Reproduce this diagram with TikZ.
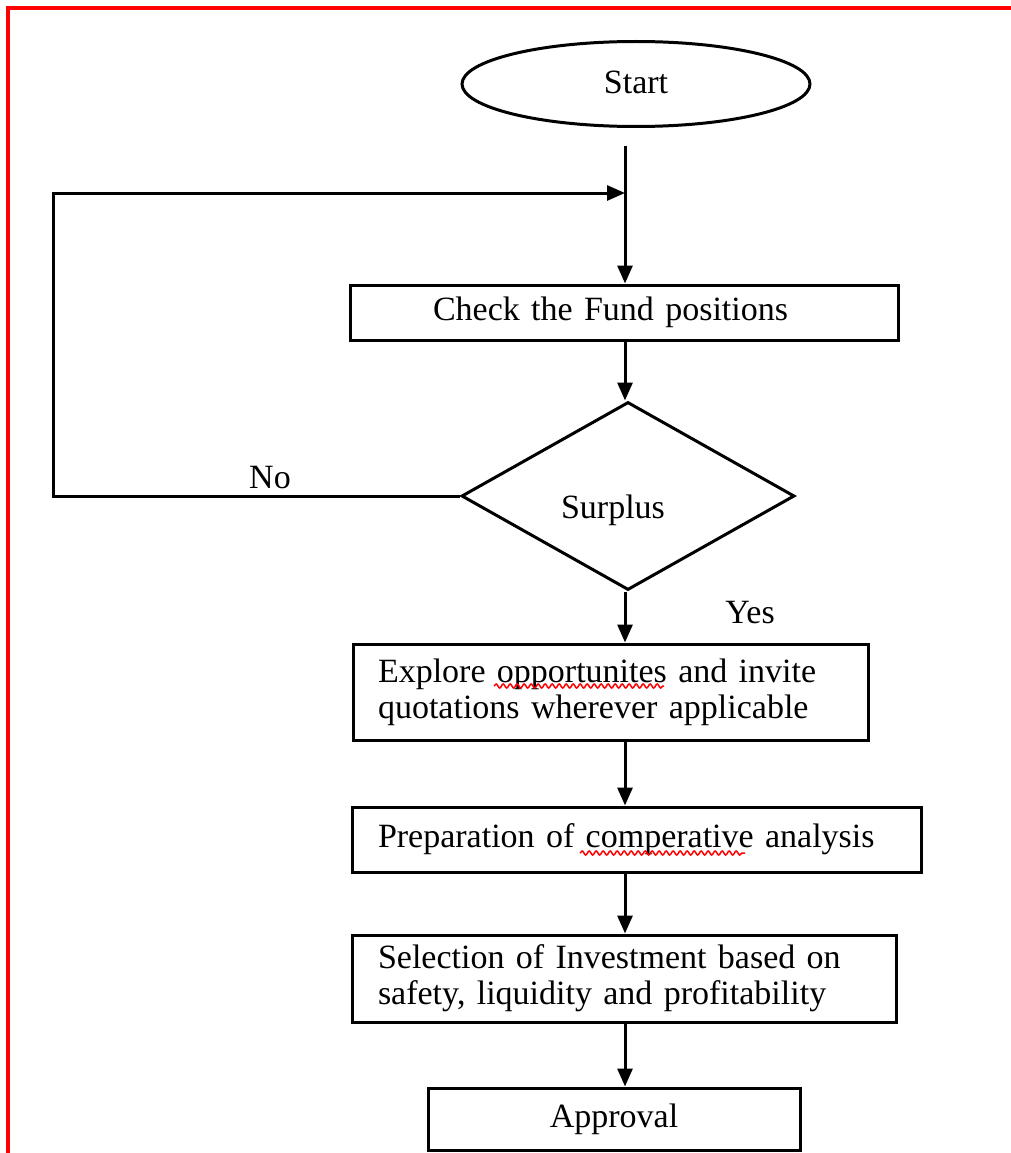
\documentclass[tikz,border=0pt]{standalone}
\usepackage{fontspec}
\setmainfont{Liberation Serif}
\usetikzlibrary{shapes.geometric,arrows.meta,decorations.pathmorphing}
\begin{document}
\begin{tikzpicture}[x=1pt,y=-1pt,
  line width=3pt,
  font=\fontsize{34}{36}\selectfont,
  box/.style={draw, rectangle, align=left, inner ysep=0pt, line width=3pt},
  arr/.style={-{Triangle[length=18pt,width=15pt]}, line width=3pt},
  squig/.style={red, line width=1.5pt, decorate, decoration={snake, amplitude=2pt, segment length=7pt}}]
\useasboundingbox (0,0) rectangle (1011,1153);
% red frame (cropped)
\draw[red, line width=4pt] (8,1153) -- (8,8) -- (1011,8);

% nodes
\node[ellipse, draw, minimum width=348pt, minimum height=85pt, inner sep=0pt] (start) at (636,84) {\raisebox{4pt}{Start}};
\node[box, minimum height=55pt, text width=382pt, inner xsep=83pt] (check) at (624,312.5) {Check the Fund positions};
\node[diamond, draw, minimum width=333pt, minimum height=188pt, inner sep=0pt] (surplus) at (628,496) {};
\node (surplustext) at (613,510) {Surplus};
\node (no) at (270,478) {No};
\node (yes) at (750,613) {Yes};
\node[box, minimum height=96pt, text width=465pt, inner xsep=25pt] (explore) at (610.5,692) {Explore opportunites and invite\\quotations wherever applicable};
\node[box, minimum height=65pt, text width=517pt, inner xsep=26pt] (prep) at (636.5,839.5) {Preparation of comperative analysis};
\node[box, minimum height=87pt, text width=492pt, inner xsep=26pt] (select) at (624,978.5) {Selection of Investment based on\\safety, liquidity and profitability};
\node[box, minimum width=372pt, minimum height=62pt, inner xsep=0pt] (approval) at (614,1119) {Approval};

% spine
\coordinate (join) at (625,193);

% connectors
\draw[arr] ([yshift=-18pt]start.south -| join) -- (check.north -| join);
\draw[arr] (check.south -| join) -- (surplus.north -| join);
\draw[arr] (surplus.south -| join) -- (explore.north -| join);
\draw[arr] (explore.south -| join) -- (prep.north -| join);
\draw[arr] (prep.south -| join) -- (select.north -| join);
\draw[arr] (select.south -| join) -- (approval.north -| join);
\draw[arr] (surplus.west) -- ++(-407,0) |- (join);

% spelling marks
\draw[squig] (494,686) -- (664,686);
\draw[squig] (580,853) -- (745,853);
\end{tikzpicture}
\end{document}
